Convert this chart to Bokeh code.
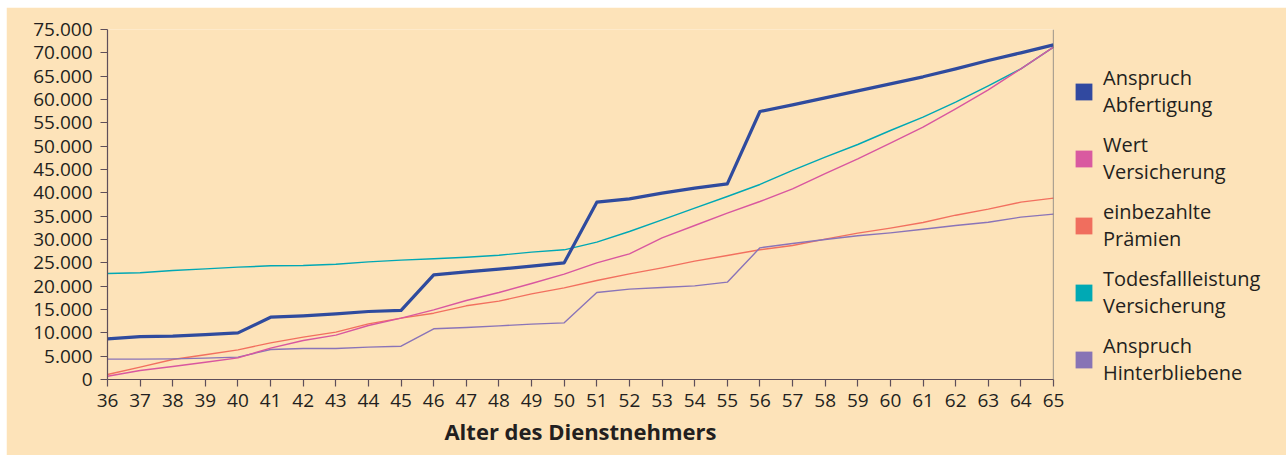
from bokeh.plotting import figure
from bokeh.models import (ColumnDataSource, Legend, LegendItem, FixedTicker, Span, Range1d)
from bokeh.embed import file_html
from bokeh.resources import INLINE

# ---- data ----
ages = list(range(36, 66))
abfertigung = [8700, 9200, 9280, 9600, 10000, 13350, 13650, 14050, 14570, 14800,
               22430, 23070, 23640, 24290, 25000, 38000, 38710, 39930, 41000, 41930,
               57430, 58860, 60360, 61860, 63360, 64860, 66570, 68360, 70000, 71710]
wert_vers = [710, 1930, 2790, 3710, 4640, 6710, 8360, 9500, 11570, 13140,
             14930, 16930, 18640, 20570, 22570, 25000, 26930, 30360, 33000, 35640,
             38140, 40860, 44140, 47290, 50640, 54070, 58000, 62070, 66570, 71210]
praemien = [1070, 2640, 4290, 5300, 6360, 7860, 9070, 10140, 11930, 13140,
            14210, 15790, 16790, 18360, 19640, 21210, 22640, 23930, 25360, 26570,
            27790, 28710, 30070, 31360, 32430, 33640, 35210, 36500, 38000, 38860]
todesfall = [22710, 22860, 23360, 23710, 24070, 24360, 24430, 24690, 25210, 25570,
             25860, 26210, 26640, 27290, 27790, 29430, 31710, 34210, 36710, 39210,
             41790, 44790, 47640, 50360, 53360, 56210, 59430, 62930, 66570, 71210]
hinterbl = [4360, 4360, 4430, 4570, 4790, 6430, 6640, 6640, 6930, 7140,
            10860, 11140, 11500, 11860, 12140, 18640, 19360, 19710, 20070, 20860,
            28210, 29140, 30000, 30790, 31430, 32210, 33000, 33710, 34790, 35430]

y_ticks = list(range(0, 75001, 5000))
y_tick_labels = ["0", "5.000", "10.000", "15.000", "20.000", "25.000", "30.000", "35.000",
                 "40.000", "45.000", "50.000", "55.000", "60.000", "65.000", "70.000", "75.000"]

series_names = ["Anspruch\nAbfertigung", "Wert\nVersicherung", "einbezahlte\nPrämien",
                "Todesfallleistung\nVersicherung", "Anspruch\nHinterbliebene"]
series_values = [abfertigung, wert_vers, praemien, todesfall, hinterbl]
line_colors = ["#2F4B9E", "#D9579F", "#F2705F", "#00A8B4", "#8A74B8"]
square_colors = ["#3149A0", "#D95AA0", "#F06E5E", "#00A9B4", "#8874B5"]
line_widths = [3.2, 1.4, 1.4, 1.4, 1.4]

BG = "#FDE3B9"
FONT = "Open Sans"
TXT = "#231F20"
AX = "#5E4E5A"

p = figure(frame_width=946, frame_height=350,
           min_border_left=101, min_border_right=233, min_border_top=22, min_border_bottom=76,
           x_range=Range1d(36, 65), y_range=Range1d(0, 75000),
           output_backend="svg", toolbar_location=None,
           background_fill_color=BG, border_fill_color=BG, outline_line_color=None)
p.margin = (7, 0, 0, 6)

p.xgrid.visible = False
p.ygrid.visible = False

# draw order: thin lines first, thick blue on top
order = [3, 2, 4, 1, 0]
for i in order:
    src = ColumnDataSource(dict(x=ages, y=series_values[i]))
    p.line("x", "y", source=src, line_color=line_colors[i], line_width=line_widths[i],
           line_join="round")

# legend squares: zero-area quads at each series' first point (invisible in the plot),
# used only so that the legend shows filled squares
items = []
for i in range(5):
    qsrc = ColumnDataSource(dict(l=ages[:1], r=ages[:1],
                                 t=series_values[i][:1], b=series_values[i][:1]))
    r = p.quad(left="l", right="r", top="t", bottom="b", source=qsrc,
               fill_color=square_colors[i], line_color=None)
    items.append(LegendItem(label=series_names[i], renderers=[r]))

legend = Legend(items=items, location=(20, -7), orientation="vertical",
                background_fill_alpha=0, border_line_color=None,
                glyph_width=21, glyph_height=21, label_standoff=9, spacing=13,
                padding=0, margin=0,
                label_text_font=FONT, label_text_font_size="20px",
                label_text_color=TXT)
p.add_layout(legend, "right")

# axes
p.xaxis.ticker = FixedTicker(ticks=ages)
p.yaxis.ticker = FixedTicker(ticks=y_ticks)
p.yaxis.major_label_overrides = {t: l for t, l in zip(y_ticks, y_tick_labels)}
for ax in (p.xaxis[0], p.yaxis[0]):
    ax.axis_line_color = AX
    ax.axis_line_width = 1.2
    ax.major_tick_line_color = AX
    ax.major_tick_line_width = 1.2
    ax.major_tick_in = 0
    ax.major_tick_out = 7
    ax.minor_tick_line_color = None
    ax.major_label_text_font = FONT
    ax.major_label_text_font_size = "19px"
    ax.major_label_text_color = TXT
p.yaxis.major_label_standoff = 8
p.xaxis.major_label_standoff = 7
p.xaxis.axis_label = "Alter des Dienstnehmers"
p.xaxis.axis_label_text_font = FONT
p.xaxis.axis_label_text_font_size = "22px"
p.xaxis.axis_label_text_font_style = "bold"
p.xaxis.axis_label_text_color = TXT
p.xaxis.axis_label_standoff = 6

p.add_layout(Span(location=65, dimension="height", line_color="#5A5A5A", line_width=1.2))

open("out.html", "w").write(file_html(p, INLINE))
